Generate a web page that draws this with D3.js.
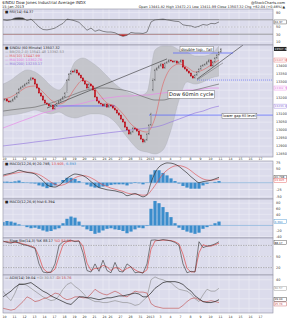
<!DOCTYPE html>
<html>
<head>
<meta charset="utf-8">
<script src="https://cdn.jsdelivr.net/npm/d3@7"></script>
<style>
  body { margin: 0; background: #fff; }
  svg { display: block; font-family: "DejaVu Sans", sans-serif; }
</style>
</head>
<body>
<svg id="chart" width="287" height="320"></svg>
<script>
// ---- data (60-min $INDU, Dec 2012 - Jan 2013) ----
const dayLabels = ["10","11","12","13","14","17","18","19","20","21","24","26","27","28","31","2013","3","4","7","8","9","10","11","14","15","16","17"];
const dayStarts = [0,5,10,15,20,25,30,35,40,45,50,53,58,63,68,73,78,83,88,93,98,103,108,113,118,123,128];

const opens = [13180,13188,13194,13182,13176,13182,13194,13207,13232,13257,
  13269,13276,13288,13294,13313,13326,13319,13288,13263,13232,
  13213,13188,13169,13163,13151,13157,13132,13151,13169,13182,
  13194,13207,13240,13313,13351,13369,13363,13376,13357,13344,
  13326,13307,13288,13263,13288,13276,13251,13207,13182,13169,
  13163,13151,13163,13144,13157,13151,13138,13126,13107,13094,
  13069,13051,13019,13001,12976,12988,13013,13007,12994,12969,
  12944,12926,12938,12976,13032,13250,13313,13376,13388,13401,
  13413,13388,13419,13426,13438,13432,13426,13432,13419,13426,
  13438,13394,13382,13369,13357,13338,13326,13344,13363,13382,
  13401,13407,13413,13426,13438,13401,13426,13451,13470,13488];
const highs = [13196,13200,13199,13189,13188,13198,13212,13236,13263,13274,
  13282,13292,13302,13318,13333,13332,13323,13294,13266,13237,
  13219,13192,13176,13167,13163,13160,13159,13173,13188,13199,
  13211,13238,13318,13357,13376,13374,13384,13380,13363,13347,
  13331,13311,13294,13295,13292,13279,13256,13211,13188,13172,
  13168,13169,13167,13162,13161,13157,13143,13130,13113,13099,
  13073,13057,13024,13005,12994,13020,13017,13012,12998,12975,
  12949,12944,12981,13038,13109,13325,13384,13394,13406,13420,
  13417,13425,13431,13444,13442,13437,13438,13436,13432,13443,
  13442,13400,13386,13374,13361,13343,13350,13368,13386,13407,
  13412,13417,13432,13445,13443,13432,13456,13476,13493,13513];
const lows = [13174,13183,13176,13171,13172,13177,13190,13201,13227,13253,
  13263,13271,13284,13288,13308,13312,13282,13258,13226,13209,
  13182,13164,13157,13147,13146,13126,13128,13146,13165,13176,
  13189,13203,13232,13307,13346,13357,13359,13352,13338,13321,
  13303,13282,13258,13259,13271,13245,13202,13178,13163,13158,
  13147,13146,13138,13140,13146,13132,13121,13101,13090,13063,
  13046,13013,12997,12970,12971,12984,13002,12990,12963,12939,
  12918,12921,12934,12971,13026,13242,13307,13371,13384,13396,
  13382,13383,13415,13421,13428,13420,13422,13414,13415,13421,
  13388,13377,13365,13351,13333,13320,13322,13339,13359,13376,
  13396,13403,13408,13422,13395,13396,13422,13446,13466,13483];
const closes = [13188,13194,13182,13176,13182,13194,13207,13232,13257,13269,
  13276,13288,13294,13313,13326,13319,13288,13263,13232,13213,
  13188,13169,13163,13151,13157,13132,13151,13169,13182,13194,
  13207,13232,13313,13351,13369,13363,13376,13357,13344,13326,
  13307,13288,13263,13288,13276,13251,13207,13182,13169,13163,
  13151,13163,13144,13157,13151,13138,13126,13107,13094,13069,
  13051,13019,13001,12976,12988,13013,13007,12994,12969,12944,
  12926,12938,12976,13032,13101,13313,13376,13388,13401,13413,
  13388,13419,13426,13438,13432,13426,13432,13419,13426,13438,
  13394,13382,13369,13357,13338,13326,13344,13363,13382,13401,
  13407,13413,13426,13438,13401,13426,13451,13470,13488,13507.32];

// overlays, one value every 4 bars
const bbUpper = [13288,13313,13351,13376,13363,13326,13276,13251,13313,13426,13451,13426,13388,13338,13288,13251,13226,13213,13238,13501,13526,13526,13501,13488,13463,13463,13476,13526];
const bbLower = [13088,13095,13101,13113,13126,13113,13101,13113,13088,13076,13088,13101,13101,13088,13051,12988,12926,12876,12863,12851,12876,13001,13188,13301,13288,13301,13326,13338];
const ma10 = [13194,13207,13238,13269,13276,13238,13188,13163,13188,13263,13313,13288,13226,13169,13151,13101,13038,13001,12988,13076,13288,13388,13413,13394,13363,13376,13407,13438];
const ma50 = [13119,13126,13132,13138,13144,13157,13169,13188,13207,13226,13244,13257,13263,13263,13257,13251,13238,13219,13201,13188,13188,13201,13219,13238,13251,13263,13276,13288];
const ma100 = [13013,13032,13051,13069,13088,13107,13119,13138,13151,13157,13169,13182,13194,13201,13207,13213,13213,13219,13219,13226,13232,13238,13244,13251,13251,13257,13263,13263];
const ma200 = [12901,12907,12913,12919,12926,12932,12938,12944,12951,12957,12963,12969,12976,12982,12988,12994,13001,13007,13013,13019,13032,13051,13069,13088,13107,13119,13138,13150];

// indicators, one value every 2 bars
const rsi = [70,68,70,75,76,75,68,72,62,50,43,42,44,47,54,60,72,70,67,63,52,41,47,38,42,38,36,36,34,28,24,27,35,33,33,32,36,64,70,71,72,70,68,66,65,56,54,53,49,52,57,55,60,59,64];
const macd = [28,32,35,40,46,42,38,36,32,20,8,-8,-14,-16,-10,2,16,26,32,30,26,17,4,-8,-18,-22,-26,-28,-30,-34,-38,-48,-44,-40,-46,-52,-44,0,36,58,68,73,72,68,60,48,36,22,10,0,4,6,9,14,20];
const macdSignal = [24,28,32,35,38,40,39,38,35,30,22,12,2,-6,-10,-8,-2,8,18,24,26,24,18,10,0,-8,-14,-20,-24,-28,-32,-38,-41,-42,-44,-46,-45,-30,-10,12,32,46,56,62,63,60,54,44,32,22,14,10,9,11,14];
const macdHist = [4,4,3,5,8,2,-1,-2,-3,-10,-14,-20,-16,-10,0,10,18,18,14,6,0,-7,-14,-18,-18,-14,-12,-8,-6,-6,-6,-10,-3,2,-2,-6,1,30,46,46,36,27,16,6,-3,-12,-18,-22,-22,-22,-10,-4,0,3,6];
const macdHist2 = [12,16,14,10,4,0,-6,-10,-8,-12,-18,-22,-20,-14,-10,8,24,32,28,14,-4,-14,-20,-30,-26,-18,-12,-10,-14,-16,-20,-28,-22,-14,-8,-10,-2,60,88,80,66,48,30,8,-8,-16,-22,-26,-30,-26,-12,-6,2,8,14];
const stoK = [92,88,86,90,86,82,80,76,72,30,8,6,8,30,80,90,92,94,90,92,60,12,8,30,10,40,12,6,34,10,8,30,22,6,8,5,30,94,95,93,96,94,92,88,80,30,6,10,8,90,74,78,80,84,90];
const stoD = [90,90,88,88,88,84,81,78,74,50,18,8,7,16,50,82,90,92,92,92,78,32,12,18,18,26,22,12,20,18,10,18,22,14,8,6,14,70,92,94,94,94,93,90,84,56,18,8,9,60,82,78,78,82,86];
const adx = [22,25,28,32,35,35,36,37,34,31,28,26,23,21,19,17,15,14,18,22,22,21,21,20,19,20,21,21,22,23,23,24,25,26,25,22,22,26,31,34,37,38,38,38,37,35,31,28,23,20,17,16,16,17,19];
const plusDI = [28,22,18,26,36,36,34,31,28,25,22,20,18,19,23,30,35,37,33,30,26,21,19,17,17,16,16,17,18,17,16,16,15,13,14,18,22,40,43,41,40,38,37,33,30,29,28,25,20,17,24,30,28,28,31];
const minusDI = [10,9,8,9,13,17,22,20,17,18,20,21,23,26,25,21,19,20,22,22,21,21,25,30,27,25,24,26,28,26,23,22,25,28,27,27,26,15,12,11,10,10,10,10,10,13,17,20,21,19,17,17,18,17,16];

const priceTicks = [12850,12900,12950,13000,13050,13100,13150,13200,13250,13300,13350,13400,13450,13500];

// ---- layout ----
const svg = d3.select("#chart");
const X0 = 3, X1 = 273;
const BG = "#dcdcec", GRID = "#eeeef7", BORDER = "#8e8ea0";
const x = d3.scaleLinear().domain([0, 135]).range([X0, X1]);
const xi = k => x(k * 2);      // indicator series: every 2 bars
const xo = k => x(k * 4);      // overlay series: every 4 bars

const P = {
  rsi: [9, 45], price: [45, 157], macd: [161, 199], hist: [199, 238], sto: [238, 275], adx: [275, 313]
};

// panel: background, grid, right labels (skipping ticks hidden by value boxes)
function panel(name, y, ticks, boxes) {
  const [t, b] = P[name];
  svg.append("rect").attr("x", X0).attr("y", t).attr("width", X1 - X0).attr("height", b - t)
    .attr("fill", BG);
  svg.append("clipPath").attr("id", "clip-" + name).append("rect")
    .attr("x", X0).attr("y", t).attr("width", X1 - X0).attr("height", b - t);
  const g = svg.append("g").attr("clip-path", "url(#clip-" + name + ")");
  g.selectAll("line.v").data(dayStarts).join("line")
    .attr("x1", d => x(d)).attr("x2", d => x(d)).attr("y1", t).attr("y2", b)
    .attr("stroke", GRID).attr("stroke-width", 0.6);
  g.selectAll("line.h").data(ticks).join("line")
    .attr("x1", X0).attr("x2", X1).attr("y1", d => y(d)).attr("y2", d => y(d))
    .attr("stroke", GRID).attr("stroke-width", 0.6);
  const shown = ticks.filter(d => (boxes || []).every(v => Math.abs(y(v) - y(d)) > 4.2));
  svg.append("g").selectAll("text").data(shown).join("text")
    .attr("x", X1 + 3).attr("y", d => y(d) + 1.3).attr("font-size", 3.4).attr("fill", "#333")
    .text(d => d);
  svg.append("rect").attr("x", X0).attr("y", t).attr("width", X1 - X0).attr("height", b - t)
    .attr("fill", "none").attr("stroke", BORDER).attr("stroke-width", 0.6);
  return g;
}

function legend(yy, parts) {
  const t = svg.append("text").attr("x", X0 + 2).attr("y", yy).attr("font-size", 3.5);
  parts.forEach(p => t.append("tspan").attr("fill", p[1]).text(p[0]));
}

function valueBox(yv, text, fill, color) {
  svg.append("rect").attr("x", X1 + 1).attr("y", yv - 2).attr("width", 12.5).attr("height", 4)
    .attr("fill", fill).attr("stroke", color === "#fff" ? "none" : color).attr("stroke-width", 0.4);
  svg.append("text").attr("x", X1 + 1.6).attr("y", yv + 1.1).attr("font-size", 2.8)
    .attr("fill", color).text(text);
}

// ---- header ----
svg.append("text").attr("x", 2).attr("y", 4).attr("font-size", 4).attr("fill", "#222")
  .text("$INDU Dow Jones Industrial Average INDX");
svg.append("text").attr("x", 2).attr("y", 8).attr("font-size", 3.6).attr("fill", "#222")
  .text("15-Jan-2013");
svg.append("text").attr("x", 285).attr("y", 4).attr("font-size", 3.6).attr("fill", "#222")
  .attr("text-anchor", "end").text("@StockCharts.com");
svg.append("text").attr("x", 285).attr("y", 8).attr("font-size", 3.4).attr("fill", "#222")
  .attr("text-anchor", "end")
  .text("Open 13441.82  High 13472.21  Low 13411.99  Close 13507.32  Chg +62.04 (+0.46%)\u25B2");

// ---- RSI ----
const yR = d3.scaleLinear().domain([0, 100]).range(P.rsi.slice().reverse());
const gR = panel("rsi", yR, [10, 30, 50, 70, 90], [64]);
[70, 30].forEach(v => gR.append("line").attr("x1", X0).attr("x2", X1).attr("y1", yR(v)).attr("y2", yR(v))
  .attr("stroke", "#666").attr("stroke-width", 0.6));
gR.append("line").attr("x1", X0).attr("x2", X1).attr("y1", yR(50)).attr("y2", yR(50))
  .attr("stroke", "#888").attr("stroke-width", 0.4).attr("stroke-dasharray", "1.5,1.5");
svg.append("clipPath").attr("id", "clip-ob").append("rect").attr("x", X0).attr("y", P.rsi[0]).attr("width", X1 - X0).attr("height", yR(70) - P.rsi[0]);
svg.append("clipPath").attr("id", "clip-os").append("rect").attr("x", X0).attr("y", yR(30)).attr("width", X1 - X0).attr("height", P.rsi[1] - yR(30));
gR.append("path").datum(rsi).attr("clip-path", "url(#clip-ob)").attr("fill", "#333")
  .attr("d", d3.area().x((d, k) => xi(k)).y0(yR(70)).y1(d => yR(d)));
gR.append("path").datum(rsi).attr("clip-path", "url(#clip-os)").attr("fill", "#d02020")
  .attr("d", d3.area().x((d, k) => xi(k)).y0(yR(30)).y1(d => yR(d)));
gR.append("path").datum(rsi).attr("fill", "none").attr("stroke", "#444").attr("stroke-width", 0.6)
  .attr("d", d3.line().x((d, k) => xi(k)).y(d => yR(d)));
legend(12.5, [["\u25A0 RSI(14) 64.37", "#222"]]);
valueBox(yR(64), "64.37", "#fff", "#333");

// ---- price ----
const yP = d3.scaleLinear().domain([12832, 13532]).range([P.price[1], P.price[0]]);
const gP = panel("price", yP, priceTicks, [13507.32, 13438, 13263, 13150]);
gP.append("path").datum(bbUpper).attr("fill", "#bfc1c6").attr("fill-opacity", 0.85)
  .attr("d", d3.area().x((d, k) => xo(k)).y0((d, k) => yP(bbLower[k])).y1(d => yP(d)).curve(d3.curveMonotoneX));
const ovLine = d3.line().x((d, k) => xo(k)).y(d => yP(d)).curve(d3.curveMonotoneX);
[[bbUpper, "#a9abb2", 0.4], [bbLower, "#a9abb2", 0.4], [ma200, "#9a7fe0", 0.7], [ma100, "#e88ae8", 0.7],
 [ma50, "#707070", 0.7], [ma10, "#e06060", 0.6]].forEach(s =>
  gP.append("path").datum(s[0]).attr("fill", "none").attr("stroke", s[1]).attr("stroke-width", s[2]).attr("d", ovLine));

// trend lines & levels (drawn on the price scale)
const trend = (b0, p0, b1, p1, col, w, dash) => gP.append("line")
  .attr("x1", x(b0)).attr("y1", yP(p0)).attr("x2", x(b1)).attr("y2", yP(p1))
  .attr("stroke", col).attr("stroke-width", w).attr("stroke-dasharray", dash || null);
trend(22, 13138, 82, 13445, "#333", 0.6);
trend(97, 13319, 120, 13532, "#333", 0.6);
trend(97, 13313, 110, 13420, "#666", 0.5);
trend(25, 13151, 56, 13151, "#5060ff", 0.7);
trend(85, 13482, 115, 13482, "#5060ff", 0.7);
trend(97, 13313, 135, 13313, "#5060ff", 0.6, "1,1");
trend(73, 13094, 135, 13094, "#5060ff", 0.7);

// candles
const bw = 1.2;
const cg = gP.append("g");
closes.forEach((c, i) => {
  const o = opens[i], down = c < o;
  cg.append("line").attr("x1", x(i)).attr("x2", x(i)).attr("y1", yP(highs[i])).attr("y2", yP(lows[i]))
    .attr("stroke", down ? "#c01018" : "#555").attr("stroke-width", 0.4);
  cg.append("rect").attr("x", x(i) - bw / 2).attr("width", bw)
    .attr("y", yP(Math.max(o, c))).attr("height", Math.max(0.4, Math.abs(yP(o) - yP(c))))
    .attr("fill", down ? "#d0101a" : "#e4e4ee").attr("stroke", down ? "#b00010" : "#555").attr("stroke-width", 0.3);
});

// annotations
function note(cx, cy, text, size) {
  const t = svg.append("text").attr("x", cx).attr("y", cy).attr("font-size", size).attr("fill", "#111").text(text);
  const bb = t.node().getBBox();
  svg.insert("rect", () => t.node()).attr("x", bb.x - 1).attr("y", bb.y - 0.3).attr("width", bb.width + 2)
    .attr("height", bb.height + 0.6).attr("fill", "#fff").attr("stroke", "#555").attr("stroke-width", 0.4);
}
note(x(89), 50.5, "double top.. fail", 4);
note(x(83), 96, "Dow 60min cycle", 5.2);
note(x(110), 117, "lower gap fill level", 3.6);

legend(48.5, [["\u25A0 $INDU (60 Minute) 13507.32", "#222"]]);
legend(52.5, [["\u2014 BB(20,2.0) 13541.48 13392.53", "#888"]]);
legend(56.5, [["\u2014 MA(10) 13447.99", "#e06060"]]);
legend(60.5, [["\u2014 MA(100) 13362.76", "#e070e0"]]);
legend(64.5, [["\u2014 MA(200) 13233.17", "#8a6fd8"]]);
valueBox(yP(13507.32), "13507.32", "#222", "#fff");
valueBox(yP(13438), "13447.99", "#fff", "#e06060");
valueBox(yP(13263), "13362.76", "#fff", "#e070e0");
valueBox(yP(13150), "13233.17", "#fff", "#8a6fd8");

// date axes
function dates(yy) {
  svg.append("g").selectAll("text").data(dayStarts).join("text")
    .attr("x", d => x(d) + 1.5).attr("y", yy).attr("font-size", 3.2).attr("text-anchor", "middle")
    .attr("fill", "#333").text((d, i) => dayLabels[i]);
}
dates(160);
dates(317.5);

// ---- MACD ----
const yM = d3.scaleLinear().domain([-60, 80]).range([P.macd[1], P.macd[0]]);
const gM = panel("macd", yM, [-50, -25, 0, 25, 50, 75], [20, 11]);
gM.selectAll("rect.h").data(macdHist).join("rect")
  .attr("x", (d, k) => xi(k) - 1.6).attr("width", 3.2)
  .attr("y", d => yM(Math.max(0, d))).attr("height", d => Math.abs(yM(d) - yM(0)))
  .attr("fill", "#3b8dcc");
gM.append("line").attr("x1", X0).attr("x2", X1).attr("y1", yM(0)).attr("y2", yM(0)).attr("stroke", "#5a9ad0").attr("stroke-width", 0.5);
const mLine = d3.line().x((d, k) => xi(k)).y(d => yM(d)).curve(d3.curveMonotoneX);
gM.append("path").datum(macdSignal).attr("fill", "none").attr("stroke", "#e04848").attr("stroke-width", 0.6).attr("d", mLine);
gM.append("path").datum(macd).attr("fill", "none").attr("stroke", "#333").attr("stroke-width", 0.7).attr("d", mLine);
legend(164.5, [["\u25A0 MACD(12,26,9) 20.798, ", "#222"], ["13.905", "#e04848"], [", 6.893", "#3b8dcc"]]);
valueBox(yM(20), "20.798", "#fff", "#333");
valueBox(yM(11) + 0.5, "13.905", "#fff", "#e04848");

// ---- second histogram ----
const yH = d3.scaleLinear().domain([-45, 95]).range([P.hist[1], P.hist[0]]);
const gH = panel("hist", yH, [-40, -20, 0, 20, 40, 60, 80], [14]);
gH.selectAll("rect.h").data(macdHist2).join("rect")
  .attr("x", (d, k) => xi(k) - 1.6).attr("width", 3.2)
  .attr("y", d => yH(Math.max(0, d))).attr("height", d => Math.abs(yH(d) - yH(0)))
  .attr("fill", "#3b8dcc");
gH.append("line").attr("x1", X0).attr("x2", X1).attr("y1", yH(0)).attr("y2", yH(0)).attr("stroke", "#5a9ad0").attr("stroke-width", 0.5);
legend(202.5, [["\u25A0 MACD(12,26,9) hist 6.394", "#222"]]);
valueBox(yH(14), "6.394", "#fff", "#3b8dcc");

// ---- stochastics ----
const yS = d3.scaleLinear().domain([0, 100]).range([P.sto[1], P.sto[0]]);
const gS = panel("sto", yS, [20, 50, 80], [88]);
[80, 20].forEach(v => gS.append("line").attr("x1", X0).attr("x2", X1).attr("y1", yS(v)).attr("y2", yS(v))
  .attr("stroke", "#777").attr("stroke-width", 0.5).attr("stroke-dasharray", "1.5,1"));
gS.append("line").attr("x1", X0).attr("x2", X1).attr("y1", yS(50)).attr("y2", yS(50))
  .attr("stroke", "#999").attr("stroke-width", 0.4).attr("stroke-dasharray", "1.5,1.5");
const sLine = d3.line().x((d, k) => xi(k)).y(d => yS(d));
gS.append("path").datum(stoD).attr("fill", "none").attr("stroke", "#e04848").attr("stroke-width", 0.7).attr("d", sLine);
gS.append("path").datum(stoK).attr("fill", "none").attr("stroke", "#333").attr("stroke-width", 0.6).attr("d", sLine);
legend(241.5, [["\u2014 Slow Sto(14,3) %K 88.17 ", "#222"], ["%D 83.33", "#e04848"]]);
valueBox(yS(88), "88.17", "#fff", "#333");

// ---- ADX ----
const yA = d3.scaleLinear().domain([5, 45]).range([P.adx[1], P.adx[0]]);
const gA = panel("adx", yA, [10, 20, 30, 40], [31, 19, 14]);
const aLine = d3.line().x((d, k) => xi(k)).y(d => yA(d));
gA.append("path").datum(plusDI).attr("fill", "none").attr("stroke", "#888").attr("stroke-width", 0.6).attr("d", aLine);
gA.append("path").datum(minusDI).attr("fill", "none").attr("stroke", "#c04848").attr("stroke-width", 0.6).attr("d", aLine);
gA.append("path").datum(adx).attr("fill", "none").attr("stroke", "#222").attr("stroke-width", 0.7).attr("d", aLine);
legend(279, [["\u2014 ADX(14) 19.04 ", "#222"], ["+DI 30.57 ", "#888"], ["-DI 15.76", "#c04848"]]);
valueBox(yA(31), "30.57", "#fff", "#888");
valueBox(yA(19.5), "19.04", "#fff", "#222");
valueBox(yA(14.5), "15.76", "#fff", "#c04848");
</script>
</body>
</html>
